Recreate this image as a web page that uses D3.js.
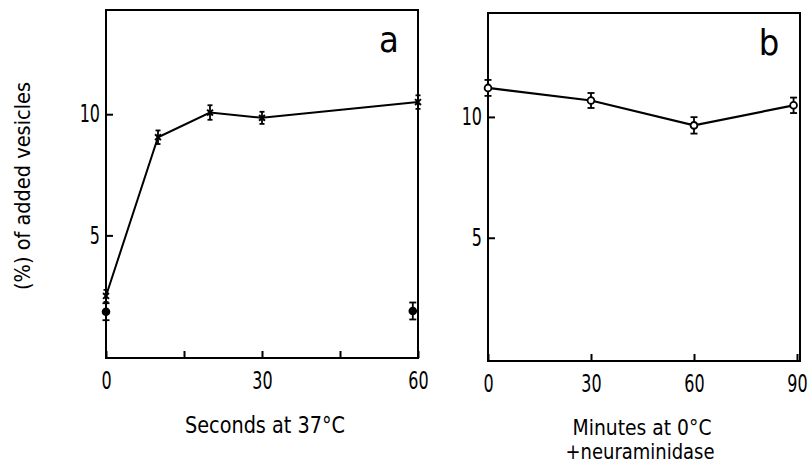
<!DOCTYPE html>
<html>
<head>
<meta charset="utf-8">
<script src="https://cdn.jsdelivr.net/npm/d3@7"></script>
<style>
  html, body { margin: 0; padding: 0; background: #fff; }
  svg { display: block; }
  text { font-family: 'DejaVu Sans Condensed', 'DejaVu Sans', sans-serif; fill: #000; }
</style>
</head>
<body>
<svg id="chart" width="808" height="465"></svg>
<script>
// ---- data ----
// Panel a: seconds at 37°C (crosses, connected)
const aTimes = [0, 10, 20, 30, 60];
const aValues = [2.5, 9.05, 10.07, 9.85, 10.5];
const aErrors = [0.25, 0.28, 0.3, 0.25, 0.28];
// Panel a: filled circles (unconnected)
const aDotTimes = [0, 59];
const aDotValues = [1.85, 1.88];
const aDotErrors = [0.35, 0.35];
// Panel b: minutes at 0°C + neuraminidase (open circles)
const bTimes = [0, 30, 60, 89];
const bValues = [11.2, 10.68, 9.65, 10.48];
const bErrors = [0.33, 0.31, 0.34, 0.32];
// tick values
const aXTicks = [0, 15, 30, 45, 60];
const aXLabels = ["0", "", "30", "", "60"];
const bXTicks = [0, 30, 60, 90];
const bXLabels = ["0", "30", "60", "90"];
const yTicks = [5, 10];
const yLabel = "(%) of added vesicles";
const aXTitle = "Seconds at 37°C";
const bXTitle = ["Minutes at 0°C", "+neuraminidase"];
const panelLetters = ["a", "b"];

const svg = d3.select("#chart");
const SX = 0.74; // horizontal squeeze for the narrow tick-label digits

function panel(opts) {
  const { x0, x1, frameRight, yTop, yBot, xDomain, yDomain, xTicks, xLabels } = opts;
  const x = d3.scaleLinear().domain(xDomain).range([x0, x1]);
  const y = d3.scaleLinear().domain(yDomain).range([yBot, yTop]);
  const g = svg.append("g");

  // frame
  g.append("rect")
    .attr("x", x0).attr("y", yTop)
    .attr("width", frameRight - x0).attr("height", yBot - yTop)
    .attr("fill", "none").attr("stroke", "#000").attr("stroke-width", 2);

  // x axis (inward ticks)
  const xa = g.append("g").attr("transform", `translate(0,${yBot})`)
    .call(d3.axisBottom(x).tickValues(xTicks)
      .tickFormat((d, i) => xLabels[i])
      .tickSizeInner(-7).tickSizeOuter(0).tickPadding(14));
  xa.select(".domain").remove();
  xa.selectAll("line").attr("stroke-width", 2);
  xa.selectAll("text").attr("font-size", 24).attr("fill", "#000")
    .attr("transform", `scale(${SX},1)`);

  // y axis (inward ticks)
  const ya = g.append("g").attr("transform", `translate(${x0},0)`)
    .call(d3.axisLeft(y).tickValues(yTicks).tickFormat(d3.format("d"))
      .tickSizeInner(-7).tickSizeOuter(0).tickPadding(6));
  ya.select(".domain").remove();
  ya.selectAll("line").attr("stroke-width", 2);
  ya.selectAll("text").attr("font-size", 24).attr("fill", "#000")
    .attr("x", -6 / SX).attr("transform", `scale(${SX},1)`);

  return { g, x, y };
}

function errorBars(g, x, y, ts, vs, es, cap) {
  const eb = g.append("g").attr("stroke", "#000").attr("stroke-width", 1.8);
  ts.forEach((t, i) => {
    const cx = x(t), lo = y(vs[i] - es[i]), hi = y(vs[i] + es[i]);
    eb.append("line").attr("x1", cx).attr("x2", cx).attr("y1", lo).attr("y2", hi);
    eb.append("line").attr("x1", cx - cap).attr("x2", cx + cap).attr("y1", lo).attr("y2", lo);
    eb.append("line").attr("x1", cx - cap).attr("x2", cx + cap).attr("y1", hi).attr("y2", hi);
  });
}

// ---- Panel a ----
const A = panel({ x0: 106, x1: 418, frameRight: 418, yTop: 10, yBot: 358,
  xDomain: [0, 60], yDomain: [-0.06, 14.3], xTicks: aXTicks, xLabels: aXLabels });
const lineA = d3.line().x((d, i) => A.x(aTimes[i])).y(d => A.y(d));
A.g.append("path").datum(aValues).attr("d", lineA)
  .attr("fill", "none").attr("stroke", "#000").attr("stroke-width", 2);
errorBars(A.g, A.x, A.y, aTimes, aValues, aErrors, 2.5);
// cross markers
A.g.append("g").selectAll("path").data(aValues).join("path")
  .attr("d", d3.symbol(d3.symbolX, 24))
  .attr("transform", (d, i) => `translate(${A.x(aTimes[i])},${A.y(d)})`)
  .attr("fill", "none").attr("stroke", "#000").attr("stroke-width", 2);
// filled circles
errorBars(A.g, A.x, A.y, aDotTimes, aDotValues, aDotErrors, 3.5);
A.g.append("g").selectAll("circle").data(aDotValues).join("circle")
  .attr("cx", (d, i) => A.x(aDotTimes[i])).attr("cy", d => A.y(d))
  .attr("r", 4.3).attr("fill", "#000");
A.g.append("text").attr("x", 389).attr("y", 52).attr("text-anchor", "middle")
  .attr("font-size", 36).text(panelLetters[0]);
A.g.append("text").attr("x", 265).attr("y", 433).attr("text-anchor", "middle")
  .attr("font-size", 23).attr("textLength", 160).attr("lengthAdjust", "spacingAndGlyphs")
  .text(aXTitle);

// ---- Panel b ----
const B = panel({ x0: 488, x1: 797, frameRight: 800, yTop: 13, yBot: 361,
  xDomain: [0, 90], yDomain: [-0.1, 14.3], xTicks: bXTicks, xLabels: bXLabels });
const lineB = d3.line().x((d, i) => B.x(bTimes[i])).y(d => B.y(d));
B.g.append("path").datum(bValues).attr("d", lineB)
  .attr("fill", "none").attr("stroke", "#000").attr("stroke-width", 2.2);
errorBars(B.g, B.x, B.y, bTimes, bValues, bErrors, 3.5);
B.g.append("g").selectAll("circle").data(bValues).join("circle")
  .attr("cx", (d, i) => B.x(bTimes[i])).attr("cy", d => B.y(d))
  .attr("r", 3.4).attr("fill", "#fff").attr("stroke", "#000").attr("stroke-width", 1.8);
B.g.append("text").attr("x", 769).attr("y", 55).attr("text-anchor", "middle")
  .attr("font-size", 36).text(panelLetters[1]);
B.g.append("text").attr("x", 642).attr("y", 435).attr("text-anchor", "middle")
  .attr("font-size", 21).attr("textLength", 139).attr("lengthAdjust", "spacingAndGlyphs")
  .text(bXTitle[0]);
B.g.append("text").attr("x", 640).attr("y", 459).attr("text-anchor", "middle")
  .attr("font-size", 21).attr("textLength", 149).attr("lengthAdjust", "spacingAndGlyphs")
  .text(bXTitle[1]);

// y-axis title
svg.append("text")
  .attr("transform", "translate(30,186) rotate(-90)")
  .attr("text-anchor", "middle").attr("font-size", 21)
  .attr("textLength", 208).attr("lengthAdjust", "spacingAndGlyphs")
  .text(yLabel);
</script>
</body>
</html>
